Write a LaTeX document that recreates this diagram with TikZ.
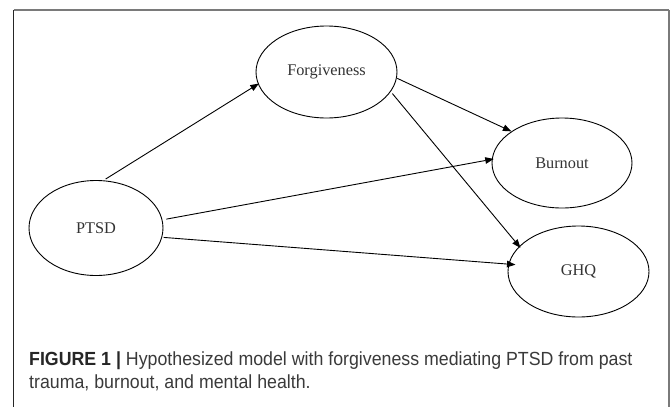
\documentclass[tikz,border=0pt]{standalone}
\usepackage{fontspec}
\setmainfont{Liberation Serif}
\newfontfamily\capfont[FakeStretch=0.935]{Liberation Sans}
\usetikzlibrary{shapes.geometric,arrows.meta}
\definecolor{txtgray}{HTML}{333333}
\definecolor{framegray}{HTML}{7A7A7A}
\definecolor{capgray}{HTML}{3A3A3A}
\begin{document}
\begin{tikzpicture}[x=1pt,y=-1pt,
  var/.style={ellipse,draw=black,line width=0.9pt,inner sep=0pt,
    text=txtgray,font=\fontsize{16.3}{18}\selectfont},
  path/.style={draw=black,line width=0.9pt,-{Triangle[length=8.5pt,width=6.5pt]}},
  capline/.style={anchor=base west,inner sep=0pt,text=capgray,
    font=\capfont\fontsize{19}{23}\selectfont}]
\useasboundingbox (0,0) rectangle (672,407);
\fill[white] (0,0) rectangle (672,407);
% frame
\coordinate (tl) at (13.5,10);
\coordinate (tr) at (669,10);
\coordinate (bl) at (13.5,407);
\coordinate (br) at (669,407);
\draw[framegray,line width=1.6pt] (tl) -- (tr);
\draw[black!85,line width=1pt] (tl) -- (bl);
\draw[framegray,line width=1.6pt] (tr) -- (br);
% nodes
\node[var,minimum width=134pt,minimum height=95pt] (ptsd) at (96,228) {PTSD};
\node[var,minimum width=141pt,minimum height=92pt] (forg) at (326.5,72) {Forgiveness};
\node[var,minimum width=140pt,minimum height=90pt] (burn) at (562,163) {Burnout};
\node[var,minimum width=141pt,minimum height=91pt] (ghq) at (578.5,271.5) {GHQ};
% connectors
\draw[path,shorten <=2.5pt,shorten >=-1pt] (ptsd.81) -- (forg.190);
\draw[path,shorten <=0.5pt] (forg.-5) -- (burn.148);
\draw[path,shorten <=2.5pt,shorten >=-2pt] (forg.-17) -- (ghq.157.5);
\draw[path,shorten <=4pt,shorten >=-2pt] (ptsd.7) -- (burn.177);
\draw[path,shorten <=1.5pt,shorten >=-7pt] (ptsd.-8) -- (ghq.174.5);
% caption
\node[capline] (cap1) at (29,365) {\textbf{\color{black!85}FIGURE 1 |} Hypothesized model with forgiveness mediating PTSD from past};
\node[capline] (cap2) at (29,388) {trauma, burnout, and mental health.};
\end{tikzpicture}
\end{document}
